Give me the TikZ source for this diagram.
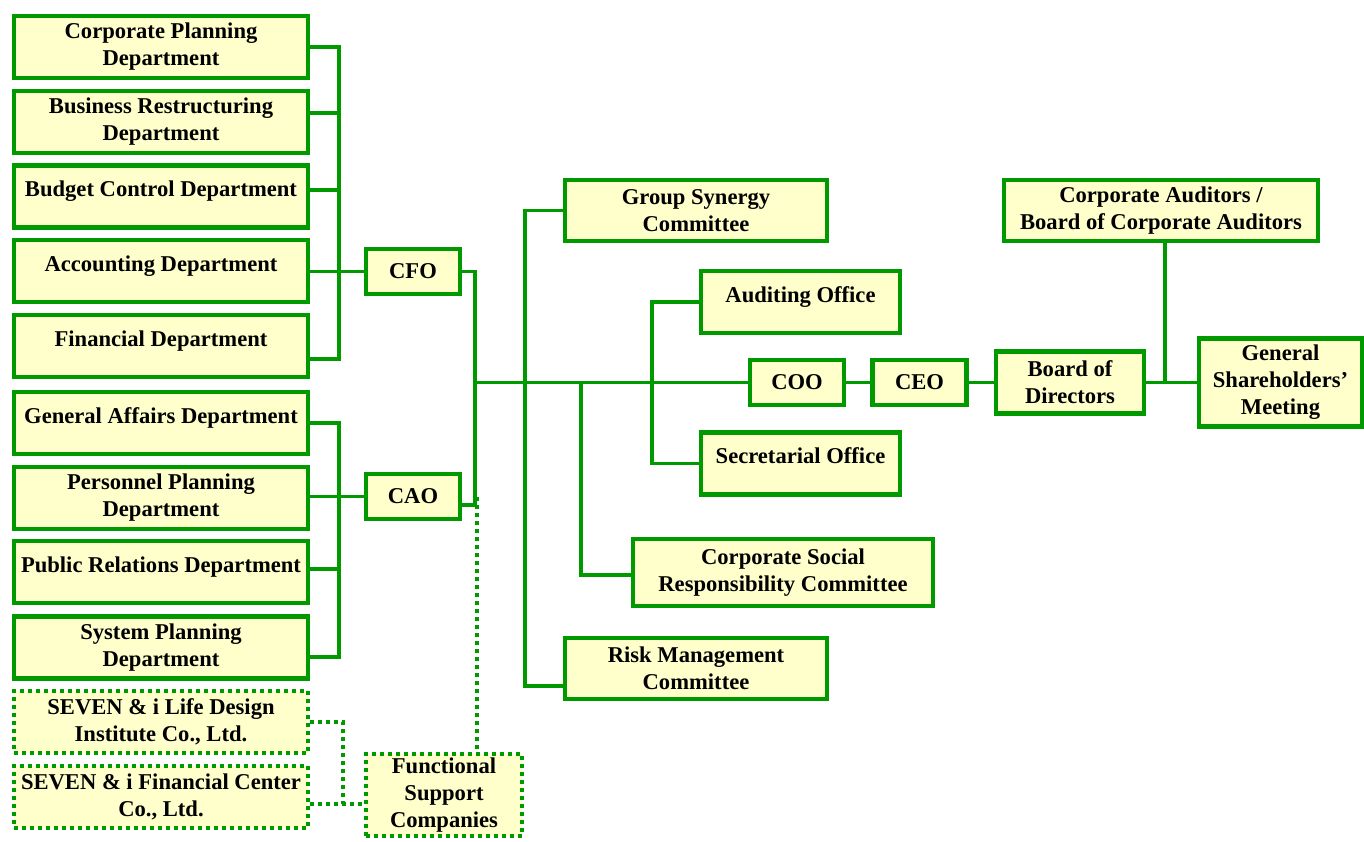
\documentclass[tikz,border=0pt]{standalone}
\usepackage{fontspec}
\setmainfont{Liberation Serif}
\definecolor{orggreen}{RGB}{0,153,0}
\definecolor{orgyellow}{RGB}{255,255,204}

\begin{document}
\begin{tikzpicture}[x=0.5pt,y=-0.5pt,
  box/.style={draw=orggreen, line width=2.2pt, fill=orgyellow, align=center, inner sep=0pt,
    font=\fontsize{11.3}{13.5}\selectfont\bfseries},
  dept/.style={box, minimum width=147pt, minimum height=31pt},
  officer/.style={box, minimum width=47pt, minimum height=22.5pt},
  dotbox/.style={dash pattern=on 2pt off 2pt},
  oneline/.style={text height=8pt, text depth=8pt},
  link/.style={draw=orggreen, line width=1.8pt},
  dotlink/.style={draw=orggreen, line width=2pt, dash pattern=on 2pt off 2pt}]
  \useasboundingbox (0,0) rectangle (1364,841);

  % departments
  \node[dept] (cpd) at (161,47) {Corporate Planning\\Department};
  \node[dept] (brd) at (161,122) {Business Restructuring\\Department};
  \node[dept,oneline] (bcd) at (161,196.5) {Budget Control Department};
  \node[dept,oneline] (acc) at (161,271) {Accounting Department};
  \node[dept,oneline] (fin) at (161,346) {Financial Department};
  \node[dept,oneline] (gad) at (161,423) {General Affairs Department};
  \node[dept] (ppd) at (161,498) {Personnel Planning\\Department};
  \node[dept,oneline] (prd) at (161,572) {Public Relations Department};
  \node[dept] (spd) at (161,647.5) {System Planning\\Department};
  \node[dept,dotbox] (sld) at (161,722) {SEVEN \& i Life Design\\Institute Co., Ltd.};
  \node[dept,dotbox] (sfc) at (161,797) {SEVEN \& i Financial Center\\Co., Ltd.};

  \node[officer] (cfo) at (413,271.5) {CFO};
  \node[officer] (cao) at (413,496.5) {CAO};
  \node[box,dotbox,minimum width=78pt,minimum height=41pt] (fsc) at (444,795) {Functional\\Support\\Companies};

  \node[box,minimum width=131pt,minimum height=30.5pt] (gsc) at (696,210.5) {Group Synergy\\Committee};
  \node[box,oneline,minimum width=99.5pt,minimum height=31pt] (aud) at (800.5,302) {Auditing Office};
  \node[box,oneline,minimum width=99.5pt,minimum height=31pt] (sec) at (800.5,463.5) {Secretarial Office};
  \node[box,minimum width=150pt,minimum height=33.5pt] (csr) at (783,572.5) {Corporate Social\\Responsibility Committee};
  \node[box,minimum width=131pt,minimum height=30.5pt] (rmc) at (696,668.5) {Risk Management\\Committee};

  \node[officer] (coo) at (797,382.5) {COO};
  \node[officer] (ceo) at (919.5,382.5) {CEO};
  \node[box,minimum width=74pt,minimum height=31pt] (bod) at (1070,382.5) {Board of\\Directors};
  \node[box,minimum width=157pt,minimum height=30.5pt] (cab) at (1161,210.5) {Corporate Auditors /\\Board of Corporate Auditors};
  \node[box,minimum width=81.5pt,minimum height=44pt] (gsm) at (1280.5,382.5) {General\\Shareholders'\\Meeting};

  \coordinate (fx) at (339,0);
  \coordinate (mx) at (475,0);
  \coordinate (dx) at (477,0);
  \coordinate (sx) at (525,0);
  \coordinate (rx) at (581,0);
  \coordinate (ox) at (652,0);
  \coordinate (ax) at (1165,0);
  \coordinate (fj) at (343,804);

  % finance side
  \draw[link] (cpd.east) -- (cpd.east -| fx) |- ([yshift=-6.5pt]fin.east);
  \draw[link] ([yshift=4.5pt]brd.east) -- ([yshift=4.5pt]brd.east -| fx);
  \draw[link] ([yshift=3.25pt]bcd.east) -- ([yshift=3.25pt]bcd.east -| fx);
  \draw[link] (cfo.west) -- (cfo.west -| acc.east);

  % administration side
  \draw[link] (gad.east) -- (gad.east -| fx) |- ([yshift=-4.75pt]spd.east);
  \draw[link] (cao.west) -- (cao.west -| ppd.east);
  \draw[link] ([yshift=1.5pt]prd.east) -- ([yshift=1.5pt]prd.east -| fx);

  \draw[link] (cfo.east) -| ([yshift=-4.25pt]cao.east -| mx) -- ([yshift=-4.25pt]cao.east);
  \draw[link] (mx |- coo.west) -- (coo.west);
  \draw[link] (gsc.west) -| ([yshift=-8.75pt]rmc.west -| sx) -- ([yshift=-8.75pt]rmc.west);
  \draw[link] (rx |- coo.west) |- ([yshift=-1.25pt]csr.west);
  \draw[link] (aud.west) -| (ox |- sec.west) -- (sec.west);
  \draw[link] (coo.east) -- (ceo.west);
  \draw[link] (ceo.east) -- (bod.west);
  \draw[link] (bod.east) -- (gsm.west);
  \draw[link] (cab.south -| ax) -- (ax |- bod.east);

  % support companies
  \draw[dotlink] (cao.east -| dx) -- (fsc.north -| dx);
  \draw[dotlink] (sld.east) -| (fj);
  \draw[dotlink] (fj -| sfc.east) -- (fj -| fsc.west);
\end{tikzpicture}
\end{document}
